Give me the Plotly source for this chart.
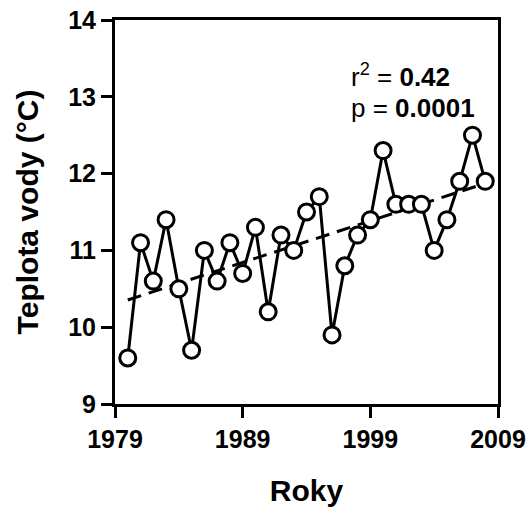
import numpy as np
import plotly.graph_objects as go

years = list(range(1980, 2009))
temps = [9.6, 11.1, 10.6, 11.4, 10.5, 9.7, 11.0, 10.6, 11.1, 10.7,
         11.3, 10.2, 11.2, 11.0, 11.5, 11.7, 9.9, 10.8, 11.2, 11.4,
         12.3, 11.6, 11.6, 11.6, 11.0, 11.4, 11.9, 12.5, 11.9]
x_ticks = [1979, 1989, 1999, 2009]
y_ticks = [9, 10, 11, 12, 13, 14]

slope, intercept = np.polyfit(years, temps, 1)
fit_x = [years[0], years[-1]]
fit_y = [slope * v + intercept for v in fit_x]

FONT = "Arial, Liberation Sans, sans-serif"

fig = go.Figure()
fig.add_trace(go.Scatter(x=fit_x, y=fit_y, mode="lines",
                         line=dict(color="black", width=3, dash="14px,8px"),
                         showlegend=False, hoverinfo="skip"))
fig.add_trace(go.Scatter(x=years, y=temps, mode="lines+markers",
                         line=dict(color="black", width=3),
                         marker=dict(symbol="circle", size=16, color="white",
                                     line=dict(color="black", width=3)),
                         showlegend=False))

axis_common = dict(showline=True, linecolor="black", linewidth=3, mirror=True,
                   ticks="outside", ticklen=11, tickwidth=3, tickcolor="black",
                   showgrid=False, zeroline=False, automargin=False,
                   tickfont=dict(family=FONT, size=25, color="black", weight="bold"))

fig.update_xaxes(range=[1979, 2009], tickvals=x_ticks,
                 ticktext=[str(v) for v in x_ticks],
                 title=dict(text="<b>Roky</b>", font=dict(family=FONT, size=30, color="black"),
                            standoff=28),
                 **axis_common)
fig.update_yaxes(range=[9, 14], tickvals=y_ticks,
                 ticktext=[str(v) for v in y_ticks],
                 title=dict(text="<b>Teplota vody (°C)</b>", font=dict(family=FONT, size=30, color="black"),
                            standoff=21),
                 **axis_common)

fig.add_annotation(x=1997.3, y=13.28, xref="x", yref="y", xanchor="left", yanchor="middle",
                   text="r<sup>2</sup> = <b>0.42</b>", showarrow=False,
                   font=dict(family=FONT, size=26, color="black"))
fig.add_annotation(x=1997.3, y=12.86, xref="x", yref="y", xanchor="left", yanchor="middle",
                   text="p = <b>0.0001</b>", showarrow=False,
                   font=dict(family=FONT, size=26, color="black"))

fig.update_layout(width=531, height=508, paper_bgcolor="white", plot_bgcolor="white",
                  margin=dict(l=115, r=33, t=20, b=104))

fig.write_html("out.html")
